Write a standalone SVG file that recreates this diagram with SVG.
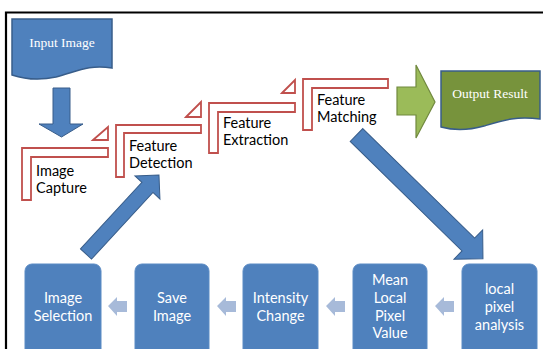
<svg xmlns="http://www.w3.org/2000/svg" width="543" height="349" viewBox="0 0 543 349">
<style>
.doc{fill:#4F81BD;stroke:#385D8A;stroke-width:1.5}
.docg{fill:#77933C;stroke:#385D8A;stroke-width:1.5}
.dt{font-family:"Liberation Serif",serif;font-size:13.5px;fill:#fff;text-anchor:middle}
.step{fill:#fff;stroke:#C0504D;stroke-width:1.8}
.st{font-family:Lato,"Liberation Sans",sans-serif;font-size:14.5px;fill:#000}
.box{fill:#4F81BD;stroke:#5B8BC4;stroke-width:1}
.bt{font-family:Lato,"Liberation Sans",sans-serif;font-size:14.5px;fill:#fff;text-anchor:middle}
.barrow{fill:#4F81BD;stroke:#385D8A;stroke-width:1}
.sarrow{fill:#A7BAD9}
.garrow{fill:#9BBB59;stroke:#71893F;stroke-width:1.2}
</style>
<path d="M6,349 V12.5 H543" fill="none" stroke="#000" stroke-width="2.2"/>
<g id="connectors">
  <polygon class="barrow" points="53,88 70,88 70,124 83,124 61.5,137 39,124 53,124"/>
  <polygon class="barrow" transform="translate(86,254) rotate(-47.3)" points="0,-7.5 90.6,-7.5 90.6,-17 107.6,0 90.6,17 90.6,7.5 0,7.5"/>
  <polygon class="barrow" transform="translate(356.5,135) rotate(44.4)" points="0,-9 156.5,-9 156.5,-20.5 177,0 156.5,20.5 156.5,9 0,9"/>
  <polygon class="garrow" points="397,87 416,87 416,65 435,102 416,138 416,115 397,115"/>
  <polygon class="sarrow" points="108,306 117,297 117,301 127,301 127,312 117,312 117,316"/>
  <polygon class="sarrow" points="217,306 226,297 226,301 236,301 236,312 226,312 226,316"/>
  <polygon class="sarrow" points="326,306 335,297 335,301 345,301 345,312 335,312 335,316"/>
  <polygon class="sarrow" points="435,306 444,297 444,301 454,301 454,312 444,312 444,316"/>
</g>
<g id="input-image">
  <path class="doc" d="M12,19 H112 V68 C88,64 76,72 56,77 C38,81 24,79 12,75 Z"/>
  <text class="dt" x="62" y="47">Input Image</text>
</g>
<g id="output-result">
  <path class="docg" d="M441,71 H540 V119 C516,116 504,120 484,126 C466,131 452,130 441,127 Z"/>
  <text class="dt" x="490" y="98">Output Result</text>
</g>
<g id="image-capture">
  <polygon class="step" points="22,148 108,148 108,157 31,157 31,200 22,200"/>
  <polygon class="step" points="93,140 108,127 108,140"/>
  <text class="st" x="36" y="176">Image</text>
  <text class="st" x="36" y="193">Capture</text>
</g>
<g id="feature-detection">
  <polygon class="step" points="116,125 201,125 201,133 124,133 124,177 116,177"/>
  <polygon class="step" points="186,117 201,102 201,117"/>
  <text class="st" x="129" y="151">Feature</text>
  <text class="st" x="129" y="168">Detection</text>
</g>
<g id="feature-extraction">
  <polygon class="step" points="209,103 295,103 295,112 218,112 218,153 209,153"/>
  <polygon class="step" points="282,93 295,80 295,93"/>
  <text class="st" x="223" y="128">Feature</text>
  <text class="st" x="223" y="145">Extraction</text>
</g>
<g id="feature-matching">
  <polygon class="step" points="303,79 388,79 388,88 312,88 312,130 303,130"/>
  <text class="st" x="317" y="105">Feature</text>
  <text class="st" x="317" y="122">Matching</text>
</g>
<g id="image-selection">
  <rect class="box" x="25" y="264" width="76" height="100" rx="7"/>
  <text class="bt" x="63" y="303">Image</text>
  <text class="bt" x="63" y="321">Selection</text>
</g>
<g id="save-image">
  <rect class="box" x="135" y="264" width="74" height="100" rx="7"/>
  <text class="bt" x="172" y="303">Save</text>
  <text class="bt" x="172" y="321">Image</text>
</g>
<g id="intensity-change">
  <rect class="box" x="243" y="264" width="75" height="100" rx="7"/>
  <text class="bt" x="280.5" y="303">Intensity</text>
  <text class="bt" x="280.5" y="321">Change</text>
</g>
<g id="mean-local-pixel-value">
  <rect class="box" x="353" y="264" width="74" height="100" rx="7"/>
  <text class="bt" x="390" y="285">Mean</text>
  <text class="bt" x="390" y="303">Local</text>
  <text class="bt" x="390" y="321">Pixel</text>
  <text class="bt" x="390" y="338">Value</text>
</g>
<g id="local-pixel-analysis">
  <rect class="box" x="462" y="264" width="75" height="100" rx="7"/>
  <text class="bt" x="499.5" y="294">local</text>
  <text class="bt" x="499.5" y="312">pixel</text>
  <text class="bt" x="499.5" y="330">analysis</text>
</g>
</svg>
